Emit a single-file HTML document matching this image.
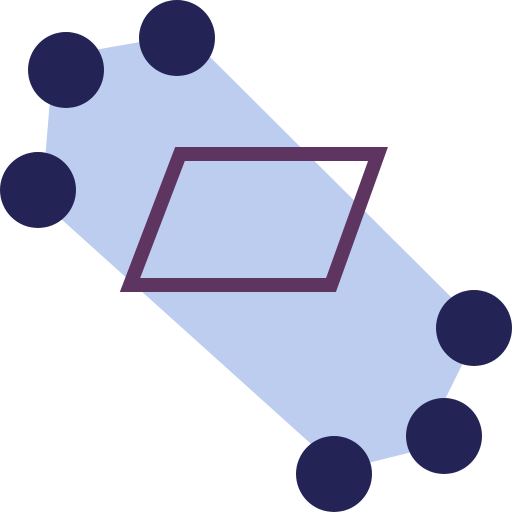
<!DOCTYPE html>
<html><head><meta charset="utf-8"><style>html,body{margin:0;padding:0;background:#fff}svg{display:block}</style></head>
<body>
<svg width="512" height="512" viewBox="0 0 512 512">
<polygon points="50,100 66,55 140,42 205,52 462,308 462,365 420,450 340,470 60,218 45,160" fill="#bccdef"/>
<polygon points="130,285 180,154 378,154 331,285" fill="none" stroke="#5e3560" stroke-width="14"/>
<g fill="#232356">
<circle cx="66" cy="70" r="38"/>
<circle cx="177" cy="38" r="38"/>
<circle cx="38" cy="190" r="38"/>
<circle cx="474" cy="328" r="38"/>
<circle cx="444" cy="436" r="38"/>
<circle cx="334" cy="474" r="38"/>
</g>
</svg>
</body></html>
